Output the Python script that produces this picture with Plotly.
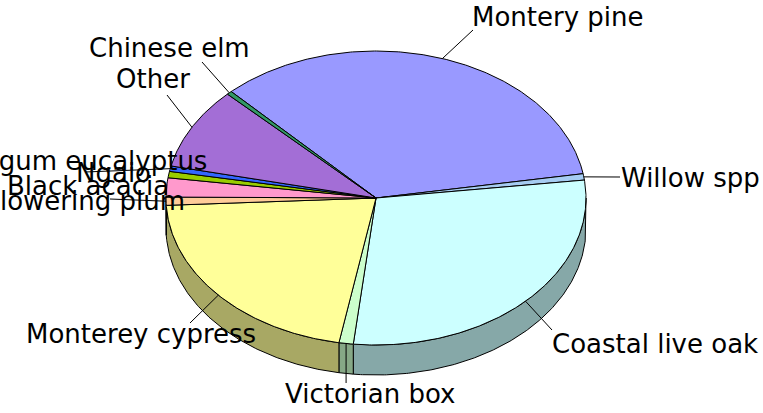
import numpy as np
import plotly.graph_objects as go

# ---------------- data ----------------
species = ["Montery pine", "Willow spp", "Coastal live oak", "Victorian box",
           "Monterey cypress", "Flowering plum", "Black acacia", "Ngaio",
           "Blue gum eucalyptus", "Other", "Chinese elm"]
share = [34.5, 0.7, 28.7, 1.1, 21.4, 0.9, 2.1, 0.7, 0.6, 9.0, 0.4]
colors = ["#9999FF", "#A6CCF2", "#CCFFFF", "#CCFFCC", "#FFFF99", "#FFCC99",
          "#FF99CC", "#99CC00", "#3366FF", "#A36ED6", "#339966"]

# ---------------- style / layout ----------------
W, H = 763, 413
CX, CY, RX, RY, DEPTH = 376, 198, 210, 147, 30
START_DEG = 133.6          # angle where the first slice starts, drawn clockwise
SHADE = 0.66
FONT = dict(family="DejaVu Sans", size=26, color="black")

# label placement: (text x, text y, xanchor, leader end x, leader end y)
label_style = {
    "Montery pine":        (470, 17, "left", 473, 30),
    "Willow spp":          (619, 178, "left", 620, 177),
    "Coastal live oak":    (550, 344, "left", 552, 330),
    "Victorian box":       (370, 394, "center", None, 383),
    "Monterey cypress":    (258, 334, "right", 190, 323),
    "Flowering plum":      (187, 201, "right", 110, 199),
    "Black acacia":        (171, 186, "right", None, None),
    "Ngaio":               (153, 173, "right", None, None),
    "Blue gum eucalyptus": (209, 161, "right", 85, 172),
    "Other":               (192, 79, "right", 167, 95),
    "Chinese elm":         (252, 48, "right", 202, 62),
}


def pt(theta_deg, dy=0.0):
    t = np.radians(theta_deg)
    return CX + RX * np.cos(t), CY - RY * np.sin(t) + dy


def darker(hexcol, f=SHADE):
    h = hexcol.lstrip("#")
    r, g, b = (int(h[i:i + 2], 16) for i in (0, 2, 4))
    return "rgb(%d,%d,%d)" % (r * f, g * f, b * f)


vals = np.array(share, dtype=float)
spans = vals / vals.sum() * 360.0
ends = START_DEG - np.cumsum(spans)
starts = ends + spans

fig = go.Figure()

# ---- side walls (visible front half: angles in (-180, 0) mod 360) ----
for s, e, c in zip(starts, ends, colors):
    lo, hi = e, s
    for k in (-360, 0, 360):
        a = max(lo, -180 + k)
        b = min(hi, 0 + k)
        if b - a <= 1e-6:
            continue
        th = np.linspace(a, b, max(3, int((b - a) * 2)))
        xt, yt = pt(th)
        xb, yb = pt(th[::-1], DEPTH)
        xs = np.concatenate([xt, xb, xt[:1]])
        ys = np.concatenate([yt, yb, yt[:1]])
        fig.add_trace(go.Scatter(x=xs, y=ys, mode="lines", fill="toself",
                                 fillcolor=darker(c),
                                 line=dict(color="black", width=1),
                                 hoverinfo="skip", showlegend=False))

# ---- top faces ----
for name, s, e, c in zip(species, starts, ends, colors):
    th = np.linspace(s, e, max(3, int(abs(s - e) * 2)))
    xa, ya = pt(th)
    xs = np.concatenate([[CX], xa, [CX]])
    ys = np.concatenate([[CY], ya, [CY]])
    fig.add_trace(go.Scatter(x=xs, y=ys, mode="lines", fill="toself",
                             fillcolor=c, line=dict(color="black", width=1),
                             name=name, hoverinfo="name", showlegend=False))

# ---- leader lines and labels ----
for name, s, e in zip(species, starts, ends):
    tx, ty, anc, lx, ly = label_style[name]
    mid = (s + e) / 2
    mx, my = pt(mid)
    if ly is not None:
        if lx is None:
            lx = mx
        fig.add_trace(go.Scatter(x=[mx, lx], y=[my, ly], mode="lines",
                                 line=dict(color="black", width=1),
                                 hoverinfo="skip", showlegend=False))
    fig.add_annotation(x=tx, y=ty, text=name, showarrow=False,
                       xanchor=anc, yanchor="middle", font=FONT)

fig.update_layout(
    width=W, height=H, margin=dict(l=0, r=0, t=0, b=0),
    paper_bgcolor="white", plot_bgcolor="white",
    xaxis=dict(range=[0, W], visible=False, fixedrange=True),
    yaxis=dict(range=[H, 0], visible=False, fixedrange=True),
    showlegend=False,
)

fig.write_html("out.html", config={"displayModeBar": False},
               post_script="document.body.style.margin='0';"
                           "document.body.style.overflow='hidden';")
